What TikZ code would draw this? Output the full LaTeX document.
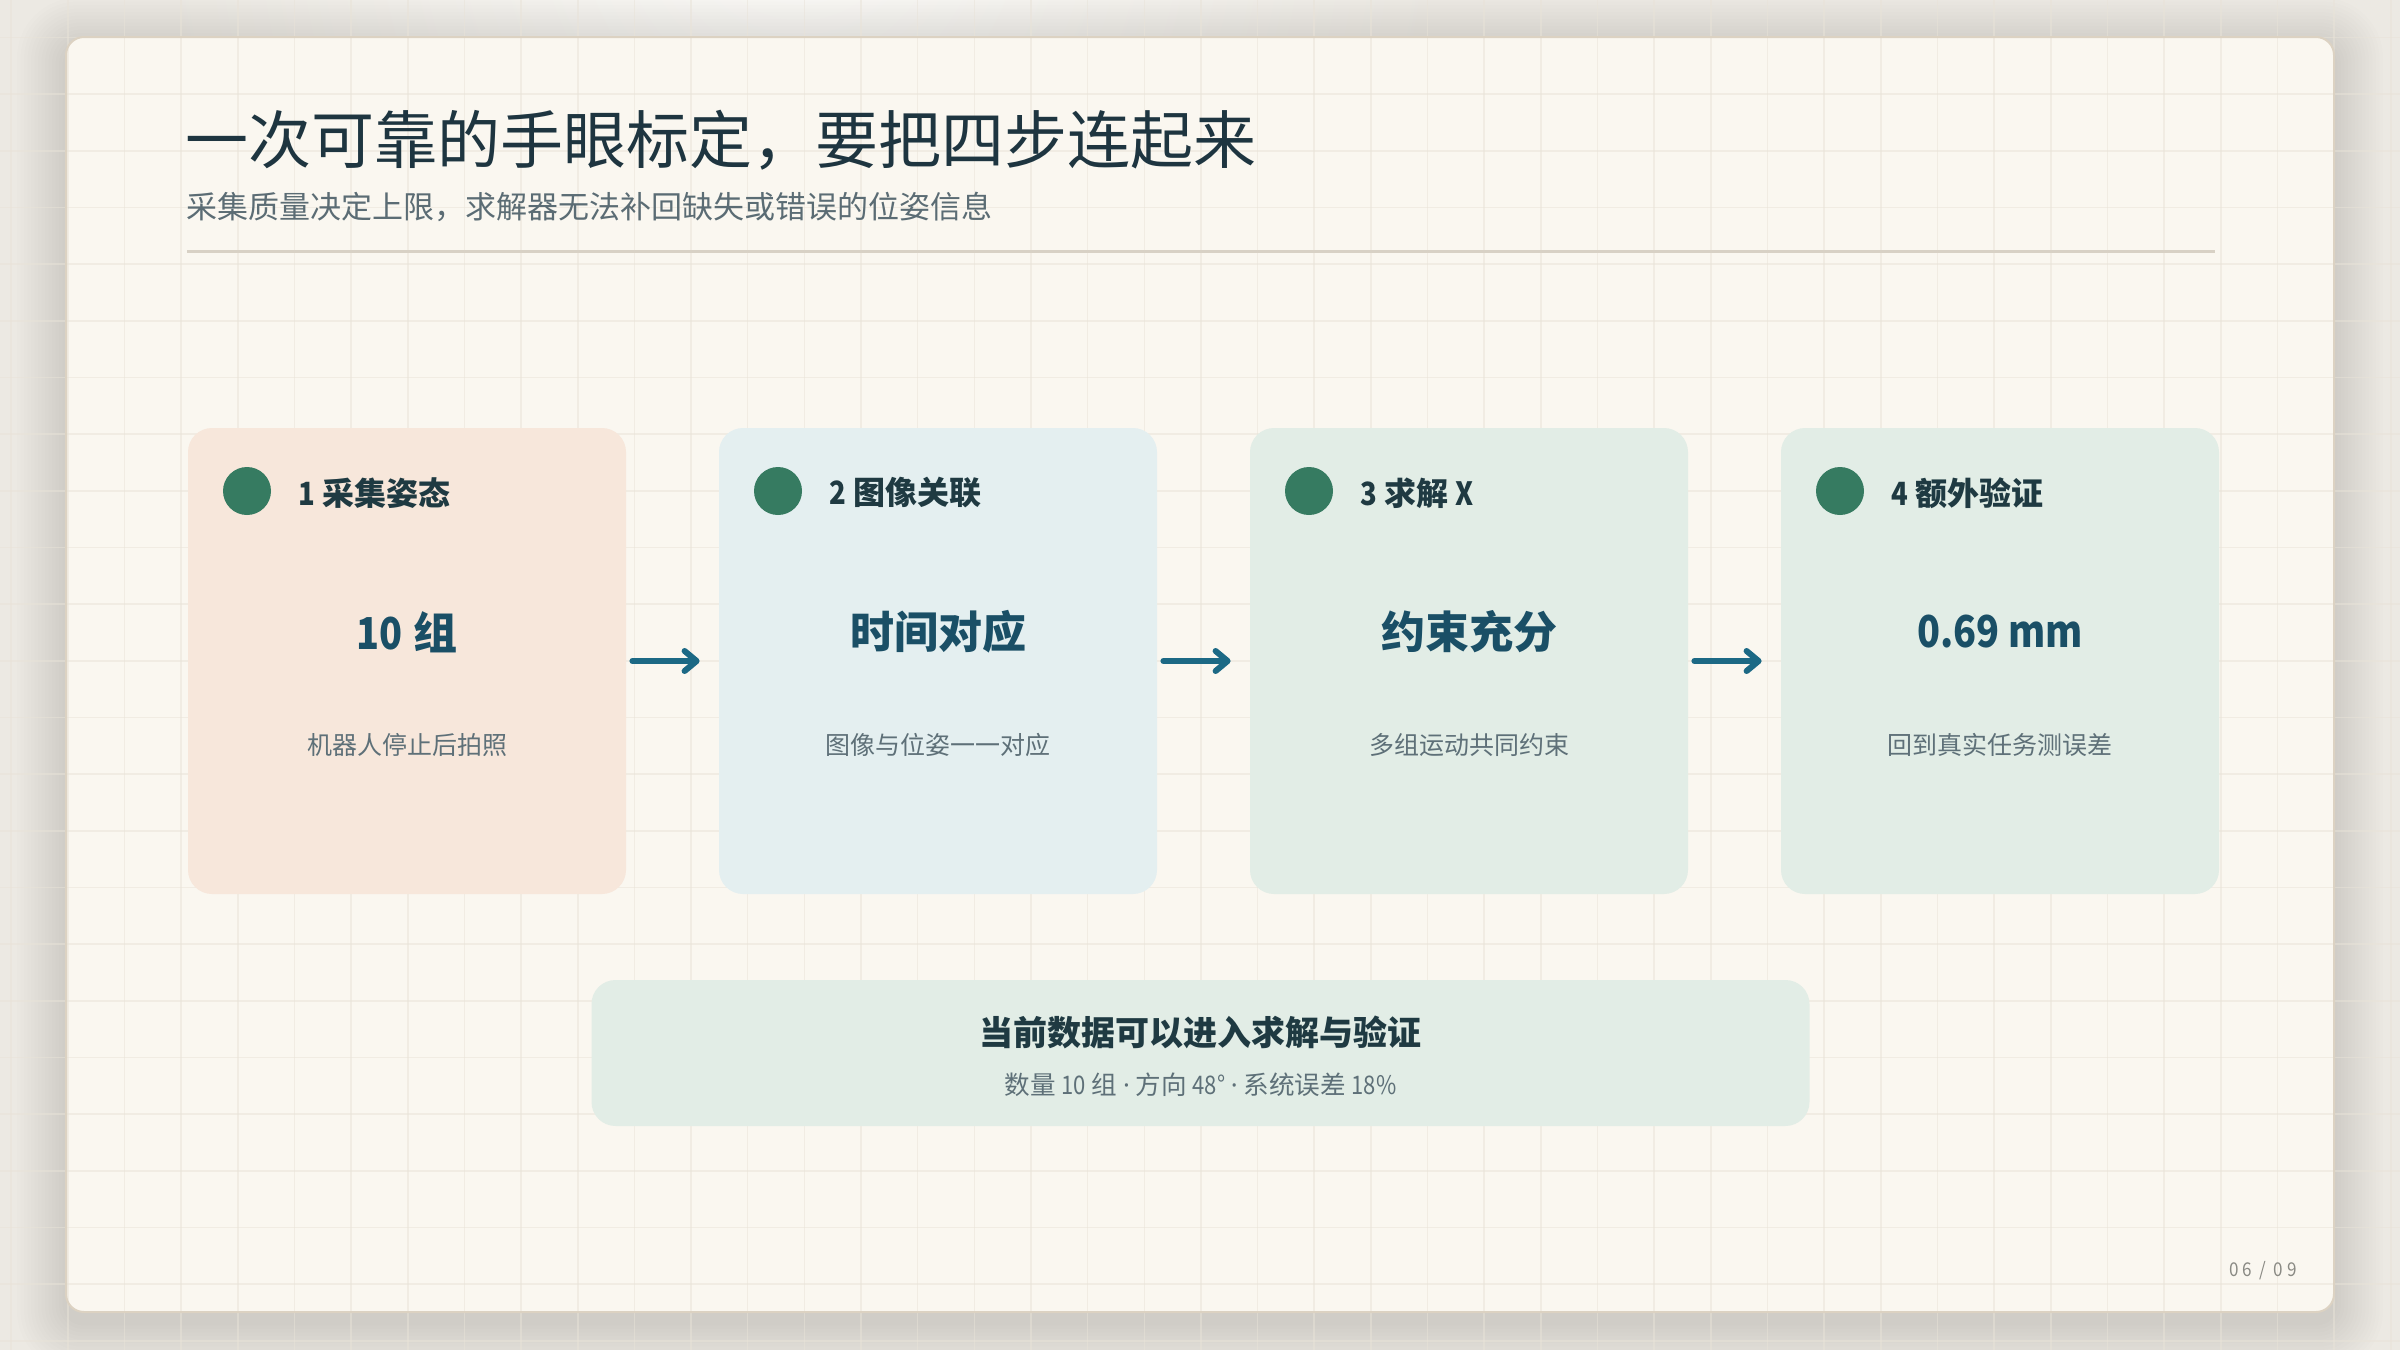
\documentclass[tikz,border=0pt]{standalone}
\usepackage{fontspec}
\setmainfont{Noto Sans CJK SC}
\newfontfamily\pagefont[LetterSpace=20,FakeStretch=0.9]{Noto Sans CJK SC}
\newfontfamily\numfont[FakeStretch=0.86]{Noto Sans CJK SC}
\newfontfamily\latfont{Noto Sans}
\usetikzlibrary{arrows.meta}
\definecolor{bgc}{HTML}{ECE9E3}
\definecolor{glowc}{HTML}{FAF9F6}
\definecolor{panelc}{HTML}{FAF7F0}
\definecolor{panelline}{HTML}{DCD2C2}
\definecolor{gridc}{HTML}{E9E3D8}
\definecolor{titlec}{HTML}{1E3540}
\definecolor{subc}{HTML}{5B6C74}
\definecolor{rulec}{HTML}{D8D1C5}
\definecolor{cardA}{HTML}{F7E7DB}
\definecolor{cardB}{HTML}{E4EFF0}
\definecolor{cardC}{HTML}{E2EDE6}
\definecolor{dotc}{HTML}{367B61}
\definecolor{headc}{HTML}{1F3A42}
\definecolor{valc}{HTML}{1A4F66}
\definecolor{descc}{HTML}{5E7078}
\definecolor{arrowc}{HTML}{1C6985}
\definecolor{pagec}{HTML}{8A8A84}
\newcommand{\nm}[1]{{\numfont #1}}
\newcommand{\mdot}{{\latfont ·}}
\tikzset{
  x=0.5pt, y=-0.5pt,
  card/.style={rectangle, rounded corners=12pt, minimum width=219pt, minimum height=233pt, inner sep=0pt},
  dotnode/.style={circle, fill=dotc, minimum size=24pt, inner sep=0pt},
  headtxt/.style={anchor=west, inner sep=0pt, text=headc, font=\bfseries\fontsize{16}{19}\selectfont},
  valtxt/.style={inner sep=0pt, text=valc, font=\bfseries\fontsize{22}{26}\selectfont},
  desctxt/.style={inner sep=0pt, text=descc, font=\fontsize{12.5}{15}\selectfont},
  flow/.style={draw=arrowc, line width=3pt, line cap=round, -{Straight Barb[length=6pt, width=10pt, round]}},
}
\begin{document}
\begin{tikzpicture}
\useasboundingbox (0,0) rectangle (2400,1350);
\fill[bgc] (0,0) rectangle (2400,1350);
\shade[inner color=glowc, outer color=bgc] (800,-80) circle[radius=320pt];
% panel shadow
\foreach \s in {1,...,14} {
  \fill[black, opacity=0.008, rounded corners=9pt+\s*1.5pt] (66-\s*3.5,37-\s*3.5+10) rectangle (2334+\s*3.5,1312+\s*3.5+10);
}
\fill[panelc, rounded corners=9pt] (66,37) rectangle (2334,1312);
% grid
\foreach \k in {0,...,42} {
  \draw[gridc, line width=0.8pt, opacity=0.5] (11.1+\k*56.66,0) -- (11.1+\k*56.66,1350);
}
\foreach \k in {-1,...,23} {
  \draw[gridc, line width=0.8pt, opacity=0.5] (0,37.6+\k*56.66) -- (2400,37.6+\k*56.66);
}
\draw[panelline, line width=1pt, rounded corners=9pt] (66,37) rectangle (2334,1312);
% title
\node[anchor=west, inner sep=0pt, text=titlec, font=\fontsize{31.5}{36}\selectfont] (title) at (185,140) {一次可靠的手眼标定，要把四步连起来};
\node[anchor=west, inner sep=0pt, text=subc, font=\fontsize{15.5}{18}\selectfont] (subtitle) at (186,207) {采集质量决定上限，求解器无法补回缺失或错误的位姿信息};
\coordinate (ruleL) at (187,251);
\coordinate (ruleR) at (2215,251);
\draw[rulec, line width=1.5pt] (ruleL) -- (ruleR);
% cards
\foreach \i/\x/\col/\head/\val/\desc in {
  1/188/cardA/{\nm{1} 采集姿态}/{\nm{10} 组}/{机器人停止后拍照},
  2/719/cardB/{\nm{2} 图像关联}/{时间对应}/{图像与位姿一一对应},
  3/1250/cardC/{\nm{3} 求解 \nm{X}}/{约束充分}/{多组运动共同约束},
  4/1781/cardC/{\nm{4} 额外验证}/{\nm{0.69 mm}}/{回到真实任务测误差}} {
  \node[card, fill=\col] (c\i) at (\x+219,661) {};
  \node[dotnode] (d\i) at (\x+59,491) {};
  \node[headtxt] (h\i) at (\x+110,493) {\head};
  \node[valtxt] (v\i) at (\x+219,632) {\val};
  \node[desctxt] (t\i) at (\x+219,745) {\desc};
}
\draw[flow, shorten <=3pt, shorten >=9.5pt] (c1.east) -- (c2.west);
\draw[flow, shorten <=3pt, shorten >=9.5pt] (c2.east) -- (c3.west);
\draw[flow, shorten <=3pt, shorten >=9.5pt] (c3.east) -- (c4.west);
% summary
\node[rectangle, rounded corners=12pt, fill=cardC, minimum width=609pt, minimum height=73pt, inner sep=0pt] (sum) at (1200.5,1053) {};
\node[inner sep=0pt, text=headc, font=\bfseries\fontsize{17}{20}\selectfont] (sumt) at (1200.5,1032) {当前数据可以进入求解与验证};
\node[inner sep=0pt, text=descc, font=\fontsize{12.8}{15}\selectfont] (sums) at (1200.5,1085) {数量 \nm{10} 组 \mdot{} 方向 \nm{48°} \mdot{} 系统误差 \nm{18\%}};
% page number
\node[anchor=east, inner sep=0pt, text=pagec, font=\pagefont\fontsize{9.5}{11}\selectfont] (page) at (2297,1271) {06 / 09};
\end{tikzpicture}
\end{document}
